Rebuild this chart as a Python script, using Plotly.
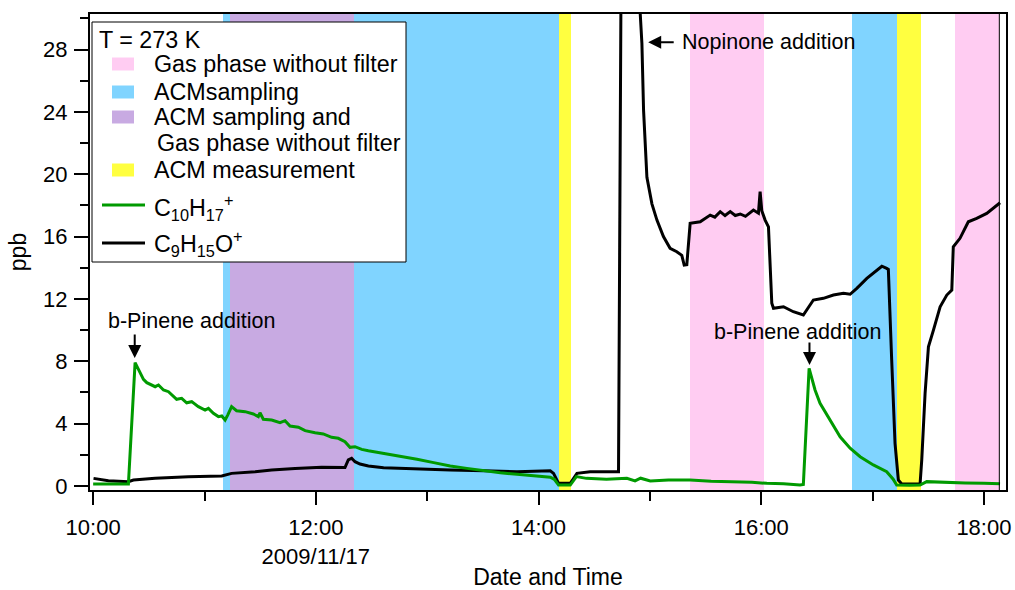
import pandas as pd
import plotly.graph_objects as go

BASE = pd.Timestamp("2009-11-17 10:00:00")

# ---- data (time as minutes after 10:00 on 2009/11/17) ----
green_min = [0, 8, 15, 19.0, 22.6, 24.4, 27.1, 28.9, 31.6, 33.4, 35.2, 37.9, 40.6, 43.3, 45.0,
             47.7, 50.4, 53.1, 56.7, 60.3, 62.1, 64.8, 67.5, 69.3, 71.1, 72.5, 74.6, 77.3, 81.9,
             86.3, 89.0, 89.9, 91.7, 96.2, 100.7, 103.4, 106.1, 110.6, 114.2, 119.6, 124.0, 128.5,
             132.1, 135.7, 138.4, 141.1, 144.7, 148.3, 156.5, 165.5, 174.5, 183.5, 192.4, 201.4,
             210.4, 219.4, 228.4, 237.3, 246.3, 248.5, 250.8, 257.1, 260.4, 265.8, 276.6, 287.6,
             292, 295, 300.2, 310, 321.7, 333, 344.9, 355, 363.0, 372, 380.9, 382.7, 385.8, 389.0,
             391.7, 397.1, 402.5, 407.9, 413.3, 420.4, 427.6, 431, 433.0, 440, 445.6, 449.2, 460,
             470, 480, 488.7]
green_ppb = [0.13, 0.12, 0.12, 0.13, 7.91, 7.48, 6.84, 6.63, 6.48, 6.37, 6.48, 6.16, 6.05, 5.77, 5.56,
             5.62, 5.34, 5.41, 5.09, 4.87, 4.98, 4.66, 4.45, 4.49, 4.23, 4.55, 5.09, 4.83, 4.77,
             4.62, 4.45, 4.70, 4.28, 4.23, 4.06, 4.19, 3.85, 3.77, 3.55, 3.42, 3.34, 3.12,
             3.06, 2.84, 2.48, 2.52, 2.35, 2.26, 2.10, 1.88, 1.71, 1.50, 1.28, 1.13,
             0.98, 0.85, 0.75, 0.64, 0.56, 0.43, 0.06, 0.06, 0.60, 0.49, 0.43, 0.49,
             0.33, 0.50, 0.32, 0.38, 0.38, 0.30, 0.28, 0.24, 0.17, 0.15, 0.06, 0.10, 7.55, 6.16,
             5.30, 4.23, 3.16, 2.42, 1.88, 1.35, 0.92, 0.45, 0.06, 0.05, 0.06, 0.28, 0.22,
             0.20, 0.17, 0.15]

black_min = [0.2, 8.2, 19.0, 21.7, 33.4, 51.3, 69.3, 74.6, 87.3, 96.2, 108.8, 123.1, 135.7, 137.5,
             139.3, 141.1, 143.8, 148.3, 156.5, 165.5, 174.5, 192.4, 210.4, 228.4, 246.3, 248.1,
             250.8, 257.1, 260.7, 267.8, 283.1, 285.0, 290.0, 294.8, 295.7, 296.6, 298.4, 301.1,
             303.8, 307.3, 310.9, 314.5, 317.2, 318.5, 319.9, 321.7, 327.1, 330.0, 332.5, 335.0,
             337.9, 340.5, 343.3, 346.0, 348.7, 351.5, 355.8, 358.5, 359.4, 360.3, 362.1, 363.9,
             365.7, 366.6, 372.0, 377.3, 382.7, 388.1, 393.5, 398.9, 404.3, 407.9, 411.5, 416.9,
             422.3, 425.0, 427.6, 428.5, 430.3, 432.1, 433.9, 435.7, 445.6, 446.5, 448.3, 450.1,
             452.8, 456.4, 460.0, 462.7, 463.5, 467.1, 471.6, 476.1, 481.5, 485.1, 488.7]
black_ppb = [0.49, 0.34, 0.28, 0.38, 0.49, 0.60, 0.64, 0.81, 0.92, 1.03, 1.13, 1.20, 1.18, 1.67,
             1.78, 1.56, 1.41, 1.28, 1.17, 1.13, 1.07, 1.03, 0.98, 0.92, 0.98, 0.81,
             0.17, 0.17, 0.81, 0.92, 0.92, 45.0, 52.0, 30.3, 28.4, 24.1, 19.8, 18.1,
             17.06, 16.0, 15.25, 15.03, 14.8, 14.17, 14.2, 16.85, 16.95, 17.2, 17.38, 17.25,
             17.6, 17.35, 17.6, 17.35, 17.45, 17.3, 17.7, 17.5, 18.88, 17.66, 17.06, 16.63,
             11.72, 11.4, 11.5, 11.18, 10.97, 11.93, 12.04, 12.25, 12.36, 12.3, 12.68, 13.32,
             13.85, 14.1, 13.96, 13.9, 8.08, 2.74, 0.38, 0.13, 0.13, 1.67, 5.95, 8.93,
             10.0, 11.5, 12.25, 12.57, 15.35, 15.89, 16.95, 17.17, 17.49, 17.81, 18.17]

# shaded periods (start, end) in minutes after 10:00
pink_periods = [(321.7, 361.4), (464.4, 488.3)]
blue_periods = [(69.8, 251.1), (409.0, 433.2)]
purple_periods = [(73.6, 140.7)]
yellow_periods = [(251.1, 257.5), (433.2, 446.1)]

tick_times = ["10:00", "12:00", "14:00", "16:00", "18:00"]
tick_text = ["10:00", "12:00<br>2009/11/17", "14:00", "16:00", "18:00"]

legend_title = "T = 273 K"
period_names = ["Gas phase without filter", "ACMsampling",
                "ACM sampling and", "Gas phase without filter", "ACM measurement"]
green_name = "C<sub>10</sub>H<sub>17</sub><sup>+</sup>"
black_name = "C<sub>9</sub>H<sub>15</sub>O<sup>+</sup>"

assert len(green_min) == len(green_ppb)
assert len(black_min) == len(black_ppb)

PINK, BLUE, PURPLE, YELLOW = "#ffccf2", "#80d4ff", "#c8aae2", "#ffff40"
GREEN = "#009a00"


def t(m):
    return BASE + pd.to_timedelta(m, unit="min")


FONT = "Liberation Sans, Arial, Helvetica, sans-serif"
Y_LO, Y_HI = -0.257, 30.28
ML, MR, MT, MB = 90, 9, 14, 100
W, H = 1015, 590
PW, PH = W - ML - MR, H - MT - MB


def px(xp):  # pixel x -> paper x
    return (xp - ML) / PW


def py(yp):  # pixel y -> paper y
    return (H - MB - yp) / PH


fig = go.Figure()


def add_periods(periods, color, name):
    mids = [t((a + b) / 2) for a, b in periods]
    widths = [(b - a) * 60000 for a, b in periods]
    fig.add_trace(go.Bar(
        x=mids, y=[Y_HI - Y_LO + 5] * len(periods), base=[Y_LO - 1] * len(periods),
        width=widths, marker=dict(color=color, line=dict(width=0)),
        name=name, showlegend=False, hoverinfo="skip"))


add_periods(pink_periods, PINK, period_names[0])
add_periods(blue_periods, BLUE, period_names[1])
add_periods(purple_periods, PURPLE, period_names[2] + " " + period_names[3])
add_periods(yellow_periods, YELLOW, period_names[4])

fig.add_trace(go.Scatter(x=[t(m) for m in black_min], y=black_ppb, mode="lines",
                         line=dict(color="black", width=3), name=black_name, showlegend=False))
fig.add_trace(go.Scatter(x=[t(m) for m in green_min], y=green_ppb, mode="lines",
                         line=dict(color=GREEN, width=3), name=green_name, showlegend=False))

ann_font = dict(family=FONT, size=21.5, color="black")
leg_font = dict(family=FONT, size=23.3, color="black")
annotations = [
    dict(x=t(52.8), y=10.58, text="b-Pinene addition", showarrow=False, font=ann_font),
    dict(x=t(22.4), y=8.21, text="", showarrow=True, ax=0, ay=-25, arrowhead=2,
         arrowsize=1.3, arrowwidth=2, arrowcolor="black"),
    dict(x=t(379.8), y=9.9, text="b-Pinene addition", showarrow=False, font=ann_font),
    dict(x=t(386.0), y=7.76, text="", showarrow=True, ax=0, ay=-24, arrowhead=2,
         arrowsize=1.3, arrowwidth=2, arrowcolor="black"),
    dict(x=t(299.1), y=28.46, text="", showarrow=True, ax=27, ay=0, arrowhead=2,
         arrowsize=1.3, arrowwidth=2, arrowcolor="black"),
    dict(x=t(316.0), y=28.46, text="Nopinone addition", showarrow=False, xanchor="left",
         font=ann_font),
]

shapes = [
    dict(type="line", xref="x", yref="paper", x0=t(pink_periods[-1][1]),
         x1=t(pink_periods[-1][1]), y0=0, y1=1, line=dict(color="black", width=1)),
    # legend box
    dict(type="rect", xref="paper", yref="paper", x0=px(92), x1=px(406), y0=py(262), y1=py(22),
         fillcolor="white", line=dict(color="black", width=1), layer="above"),
]

# legend content (manual, to match the reference's spacing)
annotations.append(dict(xref="paper", yref="paper", x=px(97), y=py(40), text=legend_title,
                        showarrow=False, xanchor="left", yanchor="middle", font=leg_font))
swatch_rows = [(PINK, 64), (BLUE, 92), (PURPLE, 117), (YELLOW, 170)]
for color, yc in swatch_rows:
    shapes.append(dict(type="rect", xref="paper", yref="paper", x0=px(112), x1=px(134),
                       y0=py(yc + 6.5), y1=py(yc - 6.5), fillcolor=color,
                       line=dict(width=0), layer="above"))
text_rows = [(period_names[0], 152, 64), (period_names[1], 152, 92),
             (period_names[2], 152, 117), (period_names[3], 155, 143),
             (period_names[4], 152, 170), (green_name, 152, 207), (black_name, 152, 244)]
for txt, xl, yc in text_rows:
    annotations.append(dict(xref="paper", yref="paper", x=px(xl), y=py(yc), text=txt,
                            showarrow=False, xanchor="left", yanchor="middle", font=leg_font))
for color, yc in [(GREEN, 205), ("black", 243)]:
    shapes.append(dict(type="line", xref="paper", yref="paper", x0=px(102), x1=px(145),
                       y0=py(yc), y1=py(yc), line=dict(color=color, width=3), layer="above"))

fig.update_layout(
    width=W, height=H,
    margin=dict(l=ML, r=MR, t=MT, b=MB),
    paper_bgcolor="white", plot_bgcolor="white",
    barmode="overlay", bargap=0,
    font=dict(family=FONT, size=22, color="black"),
    annotations=annotations, shapes=shapes,
    showlegend=False,
    xaxis=dict(
        type="date", range=[t(-1.7), t(491.9)], automargin=False,
        tickvals=[BASE.normalize() + pd.Timedelta(hours=int(s[:2]), minutes=int(s[3:])) for s in tick_times],
        ticktext=tick_text,
        showline=True, linecolor="black", linewidth=2, mirror=True,
        ticks="outside", ticklen=13, tickwidth=2, tickcolor="black",
        minor=dict(ticks="outside", ticklen=9, tickwidth=2, tickcolor="black",
                   dtick=3600000, tick0=BASE, showgrid=False),
        showgrid=False, zeroline=False, ticklabelstandoff=4,
        title=dict(text="Date and Time", standoff=10, font=dict(size=23)),
        tickfont=dict(size=22),
    ),
    yaxis=dict(
        range=[Y_LO, Y_HI], tickvals=list(range(0, 29, 4)), automargin=False,
        showline=True, linecolor="black", linewidth=2, mirror=True,
        ticks="outside", ticklen=14, tickwidth=2, tickcolor="black",
        minor=dict(ticks="outside", ticklen=8, tickwidth=2, tickcolor="black",
                   dtick=2, tick0=0, showgrid=False),
        showgrid=False, zeroline=False, ticklabelstandoff=2,
        title=dict(text="ppb", standoff=10, font=dict(size=23)),
        tickfont=dict(size=22),
    ),
)

fig.write_html("out.html")
